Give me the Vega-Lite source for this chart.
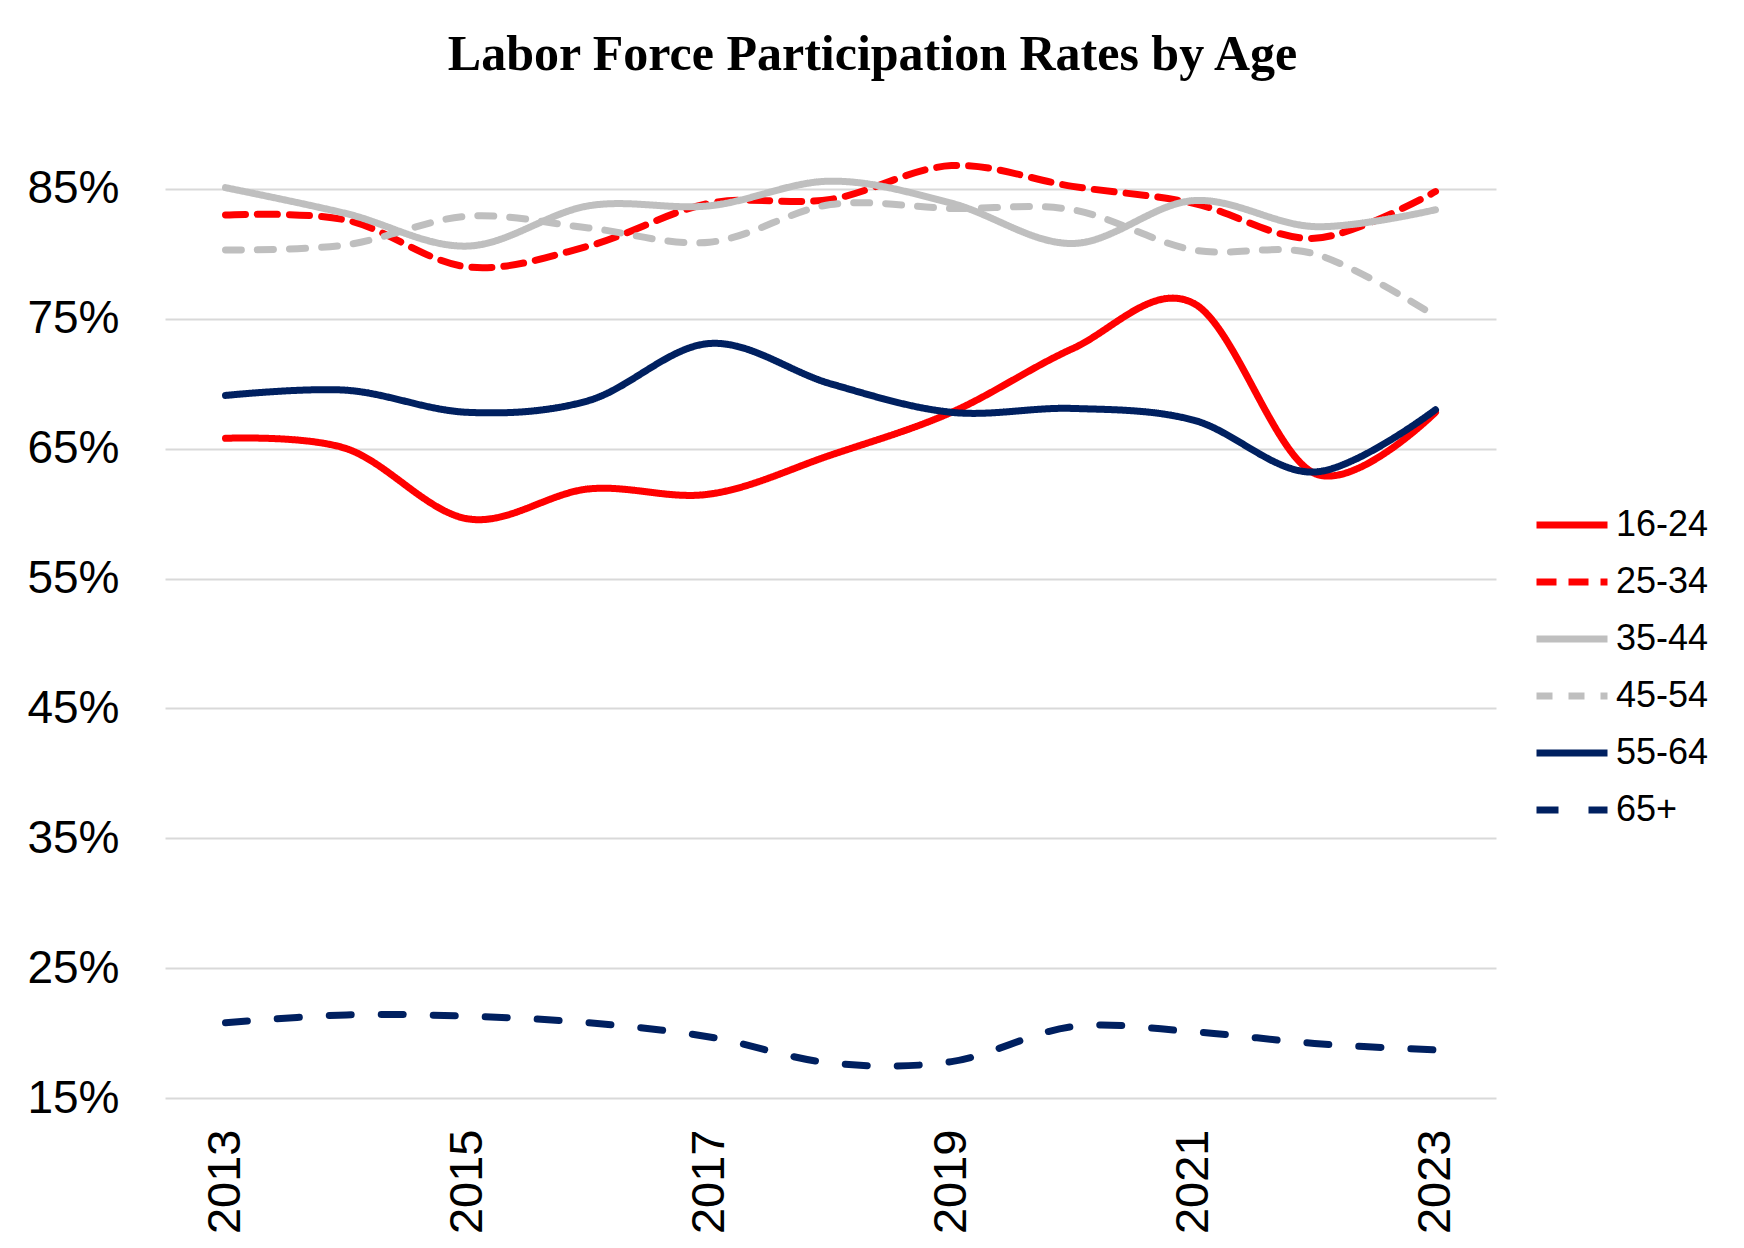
{
  "$schema": "https://vega.github.io/schema/vega-lite/v6.json",
  "width": 1331,
  "height": 948,
  "autosize": {"type": "none"},
  "padding": {"left": 165, "top": 150, "right": 248, "bottom": 150},
  "background": "white",
  "config": {"view": {"stroke": null}},
  "title": {
    "text": "Labor Force Participation Rates by Age",
    "font": "Liberation Serif",
    "fontSize": 50,
    "fontWeight": "bold",
    "color": "black",
    "anchor": "middle",
    "dx": 42,
    "offset": 70
  },
  "data": {
    "values": [
      {"year": 2013, "age": "16-24", "rate": 0.658},
      {"year": 2014, "age": "16-24", "rate": 0.650},
      {"year": 2015, "age": "16-24", "rate": 0.596},
      {"year": 2016, "age": "16-24", "rate": 0.619},
      {"year": 2017, "age": "16-24", "rate": 0.615},
      {"year": 2018, "age": "16-24", "rate": 0.645},
      {"year": 2019, "age": "16-24", "rate": 0.678},
      {"year": 2020, "age": "16-24", "rate": 0.727},
      {"year": 2021, "age": "16-24", "rate": 0.762},
      {"year": 2022, "age": "16-24", "rate": 0.631},
      {"year": 2023, "age": "16-24", "rate": 0.678},
      {"year": 2013, "age": "25-34", "rate": 0.830},
      {"year": 2014, "age": "25-34", "rate": 0.826},
      {"year": 2015, "age": "25-34", "rate": 0.790},
      {"year": 2016, "age": "25-34", "rate": 0.806},
      {"year": 2017, "age": "25-34", "rate": 0.839},
      {"year": 2018, "age": "25-34", "rate": 0.842},
      {"year": 2019, "age": "25-34", "rate": 0.868},
      {"year": 2020, "age": "25-34", "rate": 0.852},
      {"year": 2021, "age": "25-34", "rate": 0.839},
      {"year": 2022, "age": "25-34", "rate": 0.812},
      {"year": 2023, "age": "25-34", "rate": 0.848},
      {"year": 2013, "age": "35-44", "rate": 0.851},
      {"year": 2014, "age": "35-44", "rate": 0.831},
      {"year": 2015, "age": "35-44", "rate": 0.806},
      {"year": 2016, "age": "35-44", "rate": 0.837},
      {"year": 2017, "age": "35-44", "rate": 0.837},
      {"year": 2018, "age": "35-44", "rate": 0.856},
      {"year": 2019, "age": "35-44", "rate": 0.839},
      {"year": 2020, "age": "35-44", "rate": 0.808},
      {"year": 2021, "age": "35-44", "rate": 0.841},
      {"year": 2022, "age": "35-44", "rate": 0.821},
      {"year": 2023, "age": "35-44", "rate": 0.834},
      {"year": 2013, "age": "45-54", "rate": 0.803},
      {"year": 2014, "age": "45-54", "rate": 0.807},
      {"year": 2015, "age": "45-54", "rate": 0.829},
      {"year": 2016, "age": "45-54", "rate": 0.820},
      {"year": 2017, "age": "45-54", "rate": 0.809},
      {"year": 2018, "age": "45-54", "rate": 0.838},
      {"year": 2019, "age": "45-54", "rate": 0.835},
      {"year": 2020, "age": "45-54", "rate": 0.834},
      {"year": 2021, "age": "45-54", "rate": 0.803},
      {"year": 2022, "age": "45-54", "rate": 0.800},
      {"year": 2023, "age": "45-54", "rate": 0.752},
      {"year": 2013, "age": "55-64", "rate": 0.691},
      {"year": 2014, "age": "55-64", "rate": 0.695},
      {"year": 2015, "age": "55-64", "rate": 0.678},
      {"year": 2016, "age": "55-64", "rate": 0.687},
      {"year": 2017, "age": "55-64", "rate": 0.731},
      {"year": 2018, "age": "55-64", "rate": 0.700},
      {"year": 2019, "age": "55-64", "rate": 0.678},
      {"year": 2020, "age": "55-64", "rate": 0.681},
      {"year": 2021, "age": "55-64", "rate": 0.672},
      {"year": 2022, "age": "55-64", "rate": 0.632},
      {"year": 2023, "age": "55-64", "rate": 0.680},
      {"year": 2013, "age": "65+", "rate": 0.208},
      {"year": 2014, "age": "65+", "rate": 0.214},
      {"year": 2015, "age": "65+", "rate": 0.213},
      {"year": 2016, "age": "65+", "rate": 0.208},
      {"year": 2017, "age": "65+", "rate": 0.197},
      {"year": 2018, "age": "65+", "rate": 0.177},
      {"year": 2019, "age": "65+", "rate": 0.178},
      {"year": 2020, "age": "65+", "rate": 0.205},
      {"year": 2021, "age": "65+", "rate": 0.201},
      {"year": 2022, "age": "65+", "rate": 0.192},
      {"year": 2023, "age": "65+", "rate": 0.187}
    ]
  },
  "mark": {"type": "line", "interpolate": "cardinal", "tension": 0, "strokeWidth": 7, "strokeCap": "round", "strokeJoin": "round"},
  "encoding": {
    "x": {
      "field": "year",
      "type": "quantitative",
      "scale": {"domain": [2012.5, 2023.5], "nice": false, "zero": false},
      "axis": {
        "title": null,
        "values": [2013, 2015, 2017, 2019, 2021, 2023],
        "format": "d",
        "labelAngle": -90,
        "labelFont": "Liberation Sans",
        "labelFontSize": 47,
        "labelColor": "black",
        "labelPadding": 31,
        "ticks": false,
        "domain": false,
        "grid": false
      }
    },
    "y": {
      "field": "rate",
      "type": "quantitative",
      "scale": {"domain": [0.15, 0.88], "nice": false, "zero": false},
      "axis": {
        "title": null,
        "values": [0.15, 0.25, 0.35, 0.45, 0.55, 0.65, 0.75, 0.85],
        "format": ".0%",
        "labelFont": "Liberation Sans",
        "labelFontSize": 46,
        "labelColor": "black",
        "labelPadding": 46,
        "ticks": false,
        "domain": false,
        "grid": true,
        "gridColor": "#D9D9D9",
        "gridWidth": 2
      }
    },
    "color": {
      "field": "age",
      "type": "nominal",
      "scale": {
        "domain": ["16-24", "25-34", "35-44", "45-54", "55-64", "65+"],
        "range": ["#FF0000", "#FF0000", "#BFBFBF", "#BFBFBF", "#002060", "#002060"]
      },
      "legend": {
        "title": null,
        "orient": "none",
        "legendX": 1368,
        "legendY": 336,
        "symbolType": "stroke",
        "symbolSize": 5041,
        "symbolStrokeWidth": 7,
        "labelFont": "Liberation Sans",
        "labelFontSize": 36,
        "labelColor": "black",
        "labelOffset": 5,
        "rowPadding": 0
      }
    },
    "strokeDash": {
      "field": "age",
      "type": "nominal",
      "scale": {
        "domain": ["16-24", "25-34", "35-44", "45-54", "55-64", "65+"],
        "range": [[1, 0], [20, 12], [1, 0], [16, 16], [1, 0], [22, 30]]
      },
      "legend": null
    }
  }
}
